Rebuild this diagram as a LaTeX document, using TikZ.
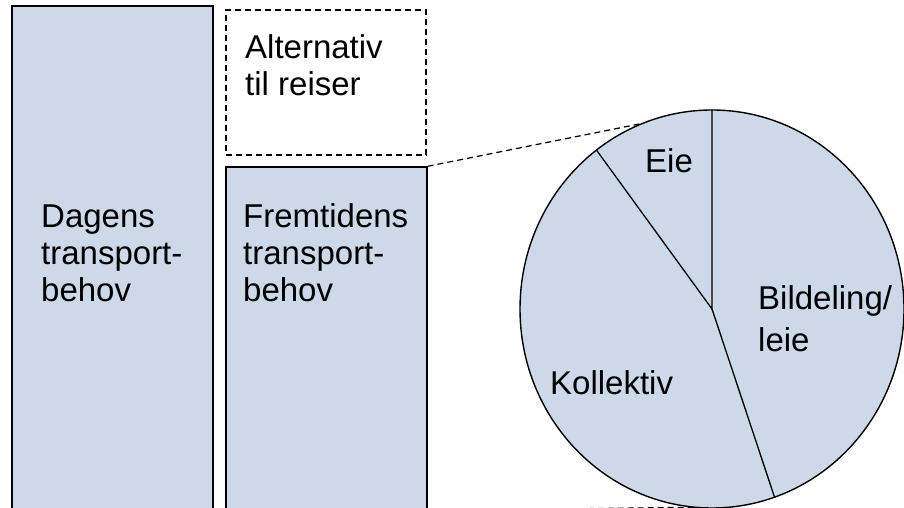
\documentclass[tikz,border=0pt]{standalone}
\usepackage{fontspec}
\setmainfont{Liberation Sans}
\usetikzlibrary{calc}

\definecolor{barblue}{RGB}{205,216,232}

\def\dW{201}
\def\rX{192}
\def\rY{199}

\tikzset{
  bar/.style={shape=rectangle, draw=black, fill=barblue, line width=1.4pt,
              minimum width=\dW pt, inner sep=0pt},
  altbox/.style={shape=rectangle, draw=black, dashes, line width=1.2pt,
                 minimum width=200pt, minimum height=145pt, inner sep=0pt},
  dashes/.style={dash pattern=on 6pt off 4pt},
  lbl/.style={align=left, inner sep=0pt, anchor=base west,
              font=\fontsize{33}{37}\selectfont},
}

\begin{document}
\begin{tikzpicture}[x=1pt, y=1pt]
    \useasboundingbox (0,0) rectangle (904,508);

    %%   bars
    \node[bar, minimum height=504pt] (Dagens) at (112.5, 250) {};
    \node[bar, minimum height=343pt] (Fremtid) at (326.5, 169.5) {};
    \node[altbox] (Alt) at (326, 425.5) {};

    %%   pie
    \coordinate (C) at (712, 199);
    \fill[barblue] (C) ellipse [x radius=\rX, y radius=\rY];
    \coordinate (PTop) at ($(C)+(90:\rX pt and \rY pt)$);
    \coordinate (PEie) at ($(C)+(127:\rX pt and \rY pt)$);
    \coordinate (PBot) at ($(C)+(289:\rX pt and \rY pt)$);
    \coordinate (TTop) at ($(C)+(111:\rX pt and \rY pt)$);
    \coordinate (TBot) at ($(C)+(265:\rX pt and \rY pt)$);
    \draw[line width=1.4pt] (C) ellipse [x radius=\rX, y radius=\rY];
    \draw[line width=1.3pt] (PTop) -- (C) -- (PEie);
    \draw[line width=1.3pt] (C) -- (PBot);

    %%   zoom lines
    \draw[dashes, line width=1.2pt] (Fremtid.north east) -- (TTop);
    \draw[dashes, line width=1.2pt] (Fremtid.south east) -- (TBot);

    %%   labels (anchored at the baseline of the last line)
    \node[lbl] (tDagens)  at (41, 206)  {Dagens\\transport-\\behov};
    \node[lbl] (tFremtid) at (243, 206) {Fremtidens\\transport-\\behov};
    \node[lbl] (tAlt)     at (245, 412) {Alternativ\\til reiser};
    \node[lbl] (tEie)     at (645, 335) {Eie};
    \node[lbl, font=\fontsize{33}{42}\selectfont] (tBil) at (758, 156) {Bildeling/\\leie};
    \node[lbl] (tKol)     at (550, 113) {Kollektiv};

  \end{tikzpicture}
\end{document}
